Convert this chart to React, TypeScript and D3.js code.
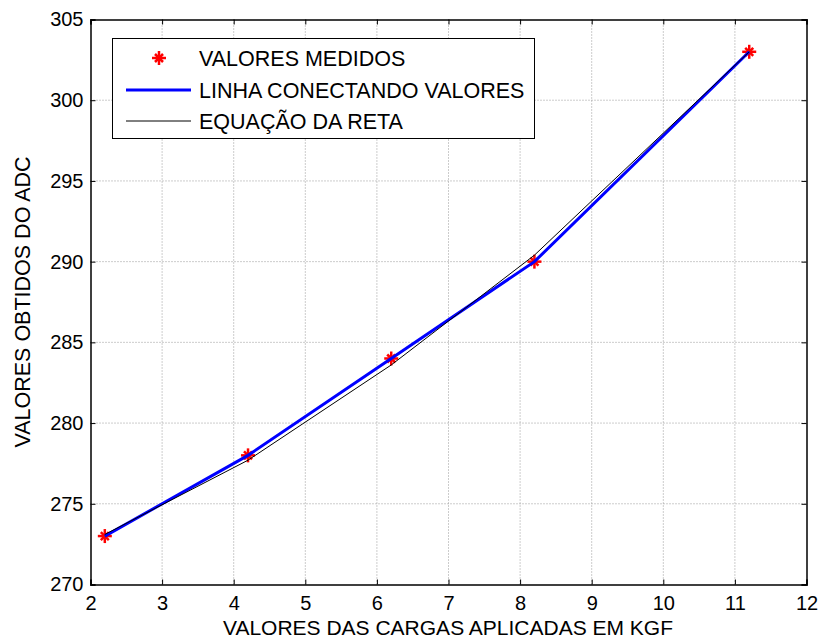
import React, { useRef, useEffect } from 'react'
import * as d3 from 'd3'

const cargas = [2.2, 4.2, 6.2, 8.2, 11.2]
const medidos = [273, 278, 284, 290, 303]
const reta = [273.1, 277.7, 283.6, 290.4, 303.0]
const xTicks = [2, 3, 4, 5, 6, 7, 8, 9, 10, 11, 12]
const yTicks = [270, 275, 280, 285, 290, 295, 300, 305]
const legendLabels = ['VALORES MEDIDOS', 'LINHA CONECTANDO VALORES', 'EQUAÇÃO DA RETA']

const W = 821
const H = 641
const FONT = '"Liberation Sans", Arial, sans-serif'

const App = () => {
  const svgRef = useRef<SVGSVGElement>(null)

  useEffect(() => {
    const svg = d3.select(svgRef.current)
    svg.selectAll('*').remove()

    const left = 90.5
    const right = 806.5
    const top = 19.5
    const bottom = 584.5

    const x = d3.scaleLinear().domain([2, 12]).range([left, right])
    const y = d3.scaleLinear().domain([270, 305]).range([bottom, top])

    svg.append('rect').attr('width', W).attr('height', H).attr('fill', '#fff')

    // grid
    const grid = svg.append('g').attr('stroke', '#999').attr('stroke-width', 1).attr('stroke-dasharray', '1,2')
    xTicks.slice(1, -1).forEach((t) => {
      grid.append('line').attr('x1', x(t)).attr('x2', x(t)).attr('y1', top).attr('y2', bottom)
    })
    yTicks.slice(1, -1).forEach((t) => {
      grid.append('line').attr('x1', left).attr('x2', right).attr('y1', y(t)).attr('y2', y(t))
    })

    // axes (inward ticks, box)
    const axB = svg.append('g').attr('transform', `translate(0,${bottom})`)
      .call(d3.axisBottom(x).tickValues(xTicks).tickSize(-5).tickPadding(9).tickFormat(d3.format('d')))
    const axT = svg.append('g').attr('transform', `translate(0,${top})`)
      .call(d3.axisTop(x).tickValues(xTicks).tickSize(-5).tickFormat(() => ''))
    const axL = svg.append('g').attr('transform', `translate(${left},0)`)
      .call(d3.axisLeft(y).tickValues(yTicks).tickSize(-5).tickPadding(7).tickFormat(d3.format('d')))
    const axR = svg.append('g').attr('transform', `translate(${right},0)`)
      .call(d3.axisRight(y).tickValues(yTicks).tickSize(-5).tickFormat(() => ''))
    ;[axB, axT, axL, axR].forEach((a) => {
      a.select('.domain').attr('stroke', '#000').attr('stroke-width', 1.5)
      a.selectAll('.tick line').attr('stroke', '#000')
      a.selectAll('text').attr('font-family', FONT).attr('font-size', 20).attr('fill', '#000')
    })
    axB.selectAll('text').attr('dy', '0.8em')

    const pts = cargas.map((c, i) => [c, medidos[i]] as [number, number])
    const fit = cargas.map((c, i) => [c, reta[i]] as [number, number])
    const line = d3.line<[number, number]>().x((d) => x(d[0])).y((d) => y(d[1]))

    const star = (g: d3.Selection<SVGGElement, unknown, null, undefined>, cx: number, cy: number) => {
      const s = g.append('g').attr('transform', `translate(${cx},${cy})`)
        .attr('stroke', '#ff0000').attr('stroke-width', 2.5)
      s.append('line').attr('x1', -7).attr('x2', 7).attr('y1', 0).attr('y2', 0)
      s.append('line').attr('x1', 0).attr('x2', 0).attr('y1', -7).attr('y2', 7)
      s.append('line').attr('x1', -4).attr('x2', 4).attr('y1', -4).attr('y2', 4)
      s.append('line').attr('x1', -4).attr('x2', 4).attr('y1', 4).attr('y2', -4)
    }

    const marks = svg.append('g')
    pts.forEach((p) => star(marks, x(p[0]), y(p[1])))

    svg.append('path').datum(pts).attr('d', line).attr('fill', 'none')
      .attr('stroke', '#0000ff').attr('stroke-width', 3)
    svg.append('path').datum(fit).attr('d', line).attr('fill', 'none')
      .attr('stroke', '#000').attr('stroke-width', 1)

    // legend
    const lg = svg.append('g')
    lg.append('rect').attr('x', 112.5).attr('y', 38.5).attr('width', 422).attr('height', 100)
      .attr('fill', '#fff').attr('stroke', '#000').attr('stroke-width', 1)
    const rows = [58, 90, 121]
    star(lg, 159, rows[0])
    lg.append('line').attr('x1', 126).attr('x2', 191).attr('y1', rows[1]).attr('y2', rows[1])
      .attr('stroke', '#0000ff').attr('stroke-width', 3)
    lg.append('line').attr('x1', 126).attr('x2', 191).attr('y1', rows[2]).attr('y2', rows[2])
      .attr('stroke', '#000').attr('stroke-width', 1)
    legendLabels.forEach((l, i) => {
      lg.append('text').attr('x', 199).attr('y', rows[i]).attr('dy', '0.36em')
        .attr('font-family', FONT).attr('font-size', 21.5).text(l)
    })

    svg.append('text').attr('x', 448).attr('y', 635).attr('text-anchor', 'middle')
      .attr('font-family', FONT).attr('font-size', 21).text('VALORES DAS CARGAS APLICADAS EM KGF')
    svg.append('text').attr('transform', `translate(30,${(top + bottom) / 2}) rotate(-90)`)
      .attr('text-anchor', 'middle').attr('font-family', FONT).attr('font-size', 21.5)
      .text('VALORES OBTIDOS DO ADC')
  }, [])

  return <svg ref={svgRef} width={W} height={H} style={{ display: 'block', position: 'absolute', left: 0, top: 0 }} />
}

export default App
